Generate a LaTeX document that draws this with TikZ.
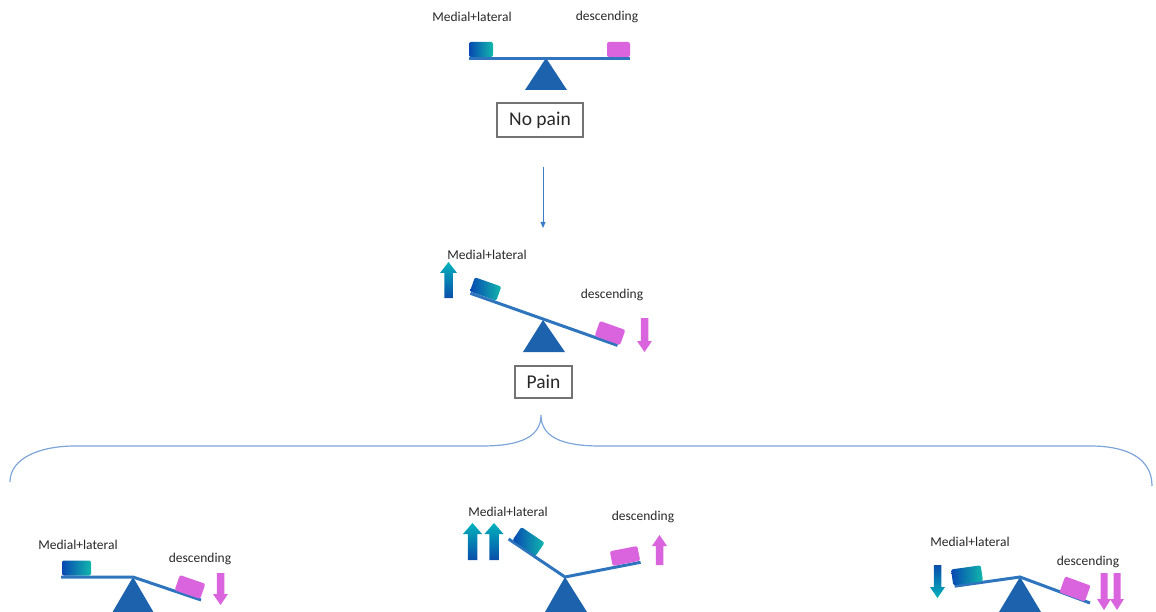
\documentclass[tikz,border=0pt]{standalone}
\usepackage{fontspec}
\setmainfont{Carlito}
\usetikzlibrary{arrows.meta}
\definecolor{beamc}{RGB}{46,117,190}
\definecolor{tric}{RGB}{28,98,172}
\definecolor{blkL}{RGB}{8,72,178}
\definecolor{blkR}{RGB}{16,184,172}
\definecolor{pinkc}{RGB}{218,99,222}
\definecolor{arrT}{RGB}{0,178,188}
\definecolor{arrB}{RGB}{10,78,170}
\definecolor{bracec}{RGB}{125,165,218}
\definecolor{conc}{RGB}{60,125,200}
\definecolor{txtc}{RGB}{40,40,40}
\definecolor{boxc}{RGB}{115,115,115}
\tikzset{
  lbl/.style={font=\fontsize{13.5}{15}\selectfont, text=txtc, inner sep=0pt},
  boxlbl/.style={draw=boxc, line width=1.3pt, font=\fontsize{19.5}{22}\selectfont, text=txtc, inner sep=0pt},
  beam/.style={draw=beamc, line width=3pt},
  pivot/.style={fill=tric},
  blueblock/.style={rectangle, inner sep=0pt, rounded corners=2pt, left color=blkL, right color=blkR},
  pinkblock/.style={rectangle, inner sep=0pt, rounded corners=2pt, fill=pinkc},
  fatup/.style 2 args={insert path={(0,0) -- (#1/2,11) -- (#1/4,11) -- (#1/4,#2) -- (-#1/4,#2) -- (-#1/4,11) -- (-#1/2,11) -- cycle}},
}
\begin{document}
\begin{tikzpicture}[x=1pt,y=-1pt]
\useasboundingbox (0,0) rectangle (1156,612);

% ---------- top seesaw (no pain)
\node[lbl] (ml1) at (472,17) {Medial+lateral};
\node[lbl] (de1) at (607,17) {descending};
\fill[pivot] (546,58) -- (567,90) -- (525,90) -- cycle;
\draw[beam] (469,58.5) -- (630,58.5);
\node[blueblock, minimum width=24pt, minimum height=15pt] (b1) at (481,49.5) {};
\node[pinkblock, minimum width=23pt, minimum height=15pt] (p1) at (618.5,49.5) {};
\node[boxlbl, minimum width=86pt, minimum height=34pt] (nopain) at (540,120) {No pain};

% ---------- connector
\coordinate (a1) at (543,167);
\coordinate (a2) at (543,228);
\draw[conc, line width=1pt, -{Triangle[length=6pt,width=5pt]}] (a1) -- (a2);

% ---------- middle seesaw (pain)
\node[lbl] (ml2) at (487,255) {Medial+lateral};
\node[lbl] (de2) at (612,295) {descending};
\fill[pivot] (543,320) -- (565,352) -- (523,352) -- cycle;
\draw[beam] (470.4,293.3) -- (617.5,345.4);
\node[blueblock, minimum width=28pt, minimum height=15pt, rotate=-19.5] (b2) at (485.6,289) {};
\node[pinkblock, minimum width=27pt, minimum height=16pt, rotate=-19.5] (p2) at (610,333) {};
\shade[top color=arrT, bottom color=arrB, shift={(448.5,262)}, fatup={17}{36}];
\shade[top color=pinkc, bottom color=pinkc, shift={(644.5,352)}, yscale=-1, fatup={15}{34}];
\node[boxlbl, minimum width=57pt, minimum height=32pt] (pain) at (543.5,382) {Pain};

% ---------- brace
\draw[bracec, line width=1.2pt] (10,482) .. controls (10,458) and (40,446) .. (75,446)
  -- (482,446) .. controls (522,446) and (541,436) .. (541,415)
  .. controls (541,436) and (560,446) .. (600,446)
  -- (1090,446) .. controls (1130,446) and (1152,460) .. (1152,486);

% ---------- bottom left
\node[lbl] (ml3) at (78,545) {Medial+lateral};
\node[lbl] (de3) at (200,559) {descending};
\fill[pivot] (133,577) -- (154,613) -- (112,613) -- cycle;
\draw[beam] (61,577) -- (133,577) -- (201,600);
\node[blueblock, minimum width=29pt, minimum height=15pt] (b3) at (76.5,568) {};
\node[pinkblock, minimum width=27pt, minimum height=16pt, rotate=-19] (p3) at (190,587) {};
\shade[top color=pinkc, bottom color=pinkc, shift={(220.5,605)}, yscale=-1, fatup={15}{32}];

% ---------- bottom middle
\node[lbl] (ml4) at (508,512) {Medial+lateral};
\node[lbl] (de4) at (643,517) {descending};
\fill[pivot] (565,577) -- (587,612) -- (545,612) -- cycle;
\draw[beam] (508.6,539) -- (565,577) -- (640.6,562.3);
\node[blueblock, minimum width=28pt, minimum height=16pt, rotate=-34] (b4) at (528.5,541.5) {};
\node[pinkblock, minimum width=28pt, minimum height=15pt, rotate=11] (p4) at (625,556) {};
\shade[top color=arrT, bottom color=arrB, shift={(472.5,523)}, fatup={19}{37}];
\shade[top color=arrT, bottom color=arrB, shift={(494,523)}, fatup={19}{37}];
\shade[top color=pinkc, bottom color=pinkc, shift={(659.5,535)}, fatup={15}{30}];

% ---------- bottom right
\node[lbl] (ml5) at (970,542) {Medial+lateral};
\node[lbl] (de5) at (1088,562) {descending};
\fill[pivot] (1020,577) -- (1041,612) -- (999,612) -- cycle;
\draw[beam] (954.6,586.2) -- (1020,577) -- (1090,603);
\node[blueblock, minimum width=30pt, minimum height=16pt, rotate=8] (b5) at (967,575.3) {};
\node[pinkblock, minimum width=27pt, minimum height=17pt, rotate=-20] (p5) at (1075,589) {};
\shade[top color=arrB, bottom color=arrT, shift={(937.5,598)}, yscale=-1, fatup={15}{33}];
\shade[top color=pinkc, bottom color=pinkc, shift={(1104,610)}, yscale=-1, fatup={14}{37}];
\shade[top color=pinkc, bottom color=pinkc, shift={(1117,610)}, yscale=-1, fatup={14}{37}];
\end{tikzpicture}
\end{document}
